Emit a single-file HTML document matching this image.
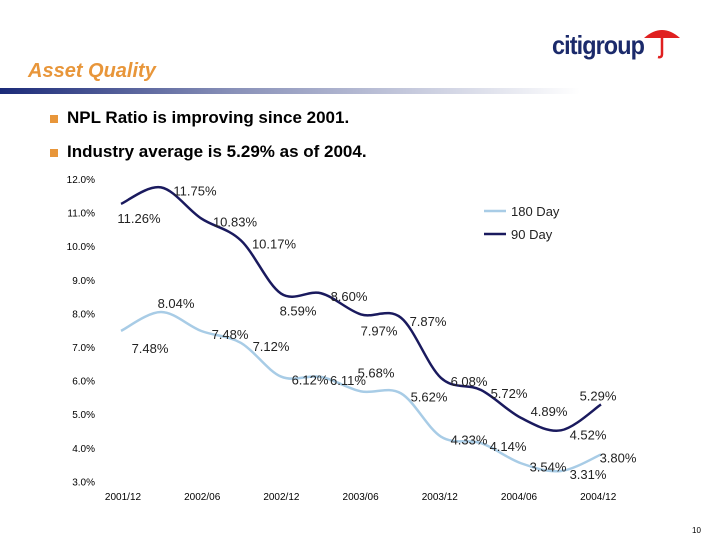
<!DOCTYPE html>
<html><head><meta charset="utf-8"><style>
body{margin:0;width:720px;height:540px;background:#fff;position:relative;overflow:hidden;font-family:"Liberation Sans",Arial,sans-serif}
.abs{position:absolute}
</style></head><body>
<div class="abs" style="left:552px;top:30px;font-size:26px;font-weight:bold;color:#1b2a6b;letter-spacing:-1px;transform:scaleX(0.9);transform-origin:left">citigroup</div>
<svg class="abs" style="left:640px;top:24px" width="44" height="38"><path d="M4 14 Q22 -2 40 14 Z" fill="#e02020"/><path d="M22 8 V30 Q22 34 18 33" stroke="#e02020" stroke-width="2.5" fill="none"/></svg>
<div class="abs" style="left:28px;top:60px;font-size:20px;font-weight:bold;font-style:italic;color:#e8963a">Asset Quality</div>
<div class="abs" style="left:0;top:88px;width:580px;height:6px;background:linear-gradient(to right,#1b2a78,#8890b8 40%,#fff)"></div>
<div class="abs" style="left:50px;top:108px;font-size:17px;font-weight:bold"><span style="display:inline-block;width:8px;height:8px;background:#e8963a;margin-right:9px"></span>NPL Ratio is improving since 2001.</div>
<div class="abs" style="left:50px;top:142px;font-size:17px;font-weight:bold"><span style="display:inline-block;width:8px;height:8px;background:#e8963a;margin-right:9px"></span>Industry average is 5.29% as of 2004.</div>
<svg class="abs" style="left:0;top:0" width="720" height="540" id="chart"></svg>
<div class="abs" style="left:692px;top:526px;font-size:8px">10</div>
<script>
const yTicks=[12,11,10,9,8,7,6,5,4,3];
const xLabels=["2001/12","2002/06","2002/12","2003/06","2003/12","2004/06","2004/12"];
const day90=[11.26,11.75,10.83,10.17,8.59,8.60,7.97,7.87,6.08,5.72,4.89,4.52,5.29];
const day180=[7.48,8.04,7.48,7.12,6.12,6.11,5.68,5.62,4.33,4.14,3.54,3.31,3.80];
const off90=[[18,15],[34,4],[34,4],[33,4],[17,18],[28,4],[18,17],[27,4],[28,4],[28,4],[28,-6],[27,5],[-3,-8]];
const off180=[[29,18],[15,-8],[29,4],[30,4],[29,4],[27,4],[15,-18],[28,4],[28,4],[27,4],[27,4],[27,4],[17,4]];
const svg=document.getElementById('chart');const NS='http://www.w3.org/2000/svg';
const x=i=>121+i*40;const y=v=>179+(12-v)*33.6;
function mk(t,a){const e=document.createElementNS(NS,t);for(const k in a)e.setAttribute(k,a[k]);svg.appendChild(e);return e;}
yTicks.forEach(v=>{const t=mk('text',{x:95,y:y(v)+4,'text-anchor':'end','font-size':10,fill:'#000'});t.textContent=v.toFixed(1)+'%';

});
xLabels.forEach((l,i)=>{const t=mk('text',{x:123+i*79.2,y:500,'text-anchor':'middle','font-size':10});t.textContent=l;

});
function path(d){const p=d.map((v,i)=>[x(i),y(v)]);let s='M'+p[0];for(let i=0;i<p.length-1;i++){const p0=p[i-1]||p[i],p1=p[i],p2=p[i+1],p3=p[i+2]||p2;
s+=` C${p1[0]+(p2[0]-p0[0])/6},${p1[1]+(p2[1]-p0[1])/6} ${p2[0]-(p3[0]-p1[0])/6},${p2[1]-(p3[1]-p1[1])/6} ${p2[0]},${p2[1]}`;}return s;}
function series(d,c,off,nm){const p=mk('path',{d:path(d),stroke:c,'stroke-width':2.5,fill:'none'});


d.forEach((v,i)=>{const t=mk('text',{x:x(i)+off[i][0],y:y(v)+off[i][1]+4,'text-anchor':'middle','font-size':13,fill:'#222'});t.textContent=v.toFixed(2)+'%';

});}
series(day180,'#a8cce6',off180,'day180');
series(day90,'#1a1a5e',off90,'day90');
const legend=[['180 Day','#a8cce6',211],['90 Day','#1a1a5e',234]];
legend.forEach(l=>{const ln=mk('line',{x1:484,x2:506,y1:l[2],y2:l[2],stroke:l[1],'stroke-width':2.5});


const t=mk('text',{x:511,y:l[2]+5,'font-size':13,fill:'#222'});t.textContent=l[0];

});
</script>
</body></html>
